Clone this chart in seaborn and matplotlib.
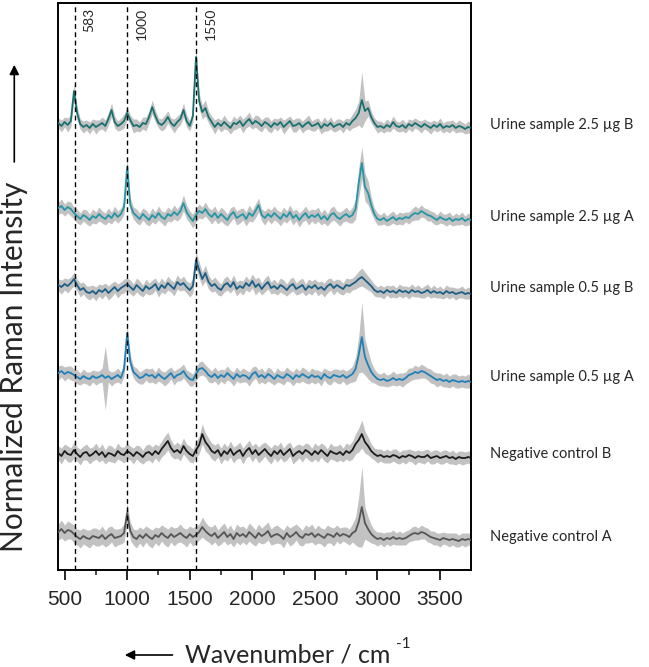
import numpy as np
import pandas as pd
import matplotlib
matplotlib.use("Agg")
import matplotlib.pyplot as plt
import matplotlib.transforms as mtransforms
from matplotlib.ticker import MultipleLocator
import seaborn as sns

# sampling grid of the spectra, cm-1
wavenumber = np.arange(450, 3751, 25)

samples = ["Negative control A", "Negative control B",
           "Urine sample 0.5 \u00b5g A", "Urine sample 0.5 \u00b5g B",
           "Urine sample 2.5 \u00b5g A", "Urine sample 2.5 \u00b5g B"]
offsets = [33, 116, 193, 282, 353, 445]
line_colors = ["#555555", "#1c1c1c", "#1f80b8", "#1b5f86", "#2695a5", "#19706f"]
marker_lines = [583, 1000, 1550]

# mean spectra (a.u., relative to each trace's baseline), rows of 10 = 250 cm-1
neg_a = [5, 8, 4, 7, 6, 3, 0, -2, 1, -1,
         -2, 1, 0, -1, 2, -2, 1, 3, -1, 0,
         1, 4, 24, 6, 0, -2, 2, -1, 3, 0,
         -2, 2, 0, 4, 1, -1, 3, 0, 2, 4,
         1, -1, 3, 0, 2, 5, 10, 6, 3, 1,
         4, -1, 2, 5, 0, 3, -2, 4, 1, 3,
         0, 5, 2, -1, 4, 1, 3, 6, 0, 2,
         3, 1, -2, 4, 0, 2, 5, 1, -1, 3,
         2, 4, 0, 3, 1, -1, 3, 2, 0, 4,
         1, 3, 2, 0, 4, 6, 15, 30, 14, 8,
         3, 0, -2, -1, -3, -1, -2, 0, -2, -1,
         -2, -1, 1, 3, 4, 3, 5, 4, 2, 0,
         -1, -2, -3, -1, -2, -3, -2, -3, -4, -2,
         -3, -2, -3]
neg_b = [1, -2, 3, 0, -1, 4, 0, -3, 1, 2,
         -2, 0, 3, -1, 2, -3, 1, 0, -2, 3,
         0, -1, 3, 1, -2, 2, 0, -3, 1, 2,
         -1, 3, 0, 5, 9, 13, 6, 2, 4, 1,
         8, 3, 0, -2, 4, 9, 20, 12, 8, 3,
         1, 4, -2, 3, 0, 5, -1, 2, 4, -2,
         3, 6, 0, 4, -1, 2, 5, 1, -2, 3,
         0, 4, -1, 2, 5, -2, 1, 3, 0, 4,
         2, -1, 3, 0, 4, 1, -2, 3, 1, 0,
         2, -1, 3, 1, 4, 10, 14, 20, 12, 8,
         3, 0, -2, -1, -3, -2, -3, -1, -2, -4,
         -2, -3, -1, -2, -4, -2, -3, -3, -1, -4,
         -3, -2, -4, -3, -2, -4, -3, -5, -3, -4,
         -4, -3, -4]
u05_a = [4, 6, 3, 5, 4, 2, 0, -2, 1, -1,
         -2, 1, -1, 0, 2, -1, 1, -2, 0, 2,
         -1, 8, 44, 15, 5, 2, -1, 0, 3, 1,
         2, -1, 3, 0, -2, 1, 4, -1, 2, 3,
         6, 1, -2, -3, 3, 8, 9, 6, 2, 0,
         3, -1, 2, 0, 4, 1, -2, 3, 0, 2,
         1, -2, 3, 5, 0, 2, -1, 3, 1, -2,
         2, 0, -1, 3, 1, -2, 2, 0, 3, 1,
         -1, 2, 0, 1, -2, 3, 0, -1, 2, 1,
         0, 2, -1, 1, 3, 8, 22, 40, 20, 12,
         5, 1, -2, -3, -2, -4, -3, -1, -3, -2,
         -3, -1, 2, 3, 5, 4, 6, 5, 3, 1,
         -1, -3, -2, -4, -3, -5, -3, -4, -5, -4,
         -5, -4, -5]
u05_b = [3, 1, 4, 2, 5, 9, 3, -2, 0, -4,
         -5, -3, -6, -2, -4, -1, -5, -2, 1, -3,
         0, 2, 4, 1, -2, 3, 0, -3, 2, -1,
         1, 4, -2, 3, 0, 5, 2, -1, 6, 3,
         5, 1, -2, 2, 28, 18, 9, 15, 6, 2,
         4, 0, -2, 3, 5, 1, 6, -1, 2, 0,
         5, 2, 7, 1, 4, -1, 3, 6, 0, 2,
         -1, 3, 1, -2, 2, 4, -1, 1, 3, -2,
         2, 0, 3, -1, 1, -2, 2, 4, 0, 3,
         1, -1, 3, 2, 4, 6, 9, 11, 8, 5,
         2, -2, -4, -3, -5, -2, -4, -3, -5, -2,
         -4, -3, -5, -2, -4, -3, -5, -4, -2, -5,
         -3, -5, -4, -6, -3, -5, -4, -6, -5, -4,
         -6, -5, -6]
u25_a = [9, 11, 7, 10, 8, 4, 1, -2, 2, 0,
         -3, 1, -1, 3, 0, -2, 2, -1, 4, 0,
         3, 10, 50, 12, 4, 1, -2, 3, 0, -3,
         2, -1, 4, 0, -2, 3, 1, 5, 2, 6,
         14, 5, 0, -4, 2, 6, 4, 8, 3, 0,
         4, -1, 3, 0, -3, 2, 5, -1, 1, 3,
         -2, 4, 1, 6, 12, 2, -1, 3, 0, 4,
         1, -2, 3, 0, 5, -1, 2, -3, 1, 4,
         -1, 2, 0, 3, -2, 1, -3, 2, 4, 0,
         -2, 1, 3, 0, 2, 8, 34, 54, 30, 24,
         12, 3, -2, -3, -1, -4, -2, 0, -3, -1,
         -2, 0, -1, 2, 4, 3, 6, 4, 2, 1,
         -1, -3, 0, -2, -3, -1, -4, -2, -3, -1,
         -4, -2, -3]
u25_b = [2, -1, 3, 0, 4, 34, 12, 1, -2, 0,
         -3, 1, -2, 0, 2, -1, 6, 15, 3, -1,
         1, 4, 12, 5, -1, 0, -2, 2, 1, 8,
         18, 9, 2, 0, 3, 8, 2, -1, 3, 6,
         15, 4, -1, 9, 68, 24, 13, 17, 8, 3,
         -2, 2, -1, 3, 0, -3, 2, 1, 4, -1,
         3, 6, 1, 4, 2, -1, 3, 1, -2, 2,
         0, 3, -2, 1, 4, -1, 0, 2, -2, 1,
         3, -1, 0, 2, -3, 1, -1, 2, -2, 0,
         1, -2, 2, 0, 4, 7, 12, 25, 14, 17,
         8, 2, -2, -1, -3, 0, -2, 3, -1, -2,
         0, -3, 1, -1, 2, 0, -2, 1, -1, -3,
         0, -2, 1, -3, -1, -2, 0, -3, -1, -2,
         -4, -2, -3]

# standard deviation of the replicate spectra (grey band)
sd_neg_a = [8, 9, 8, 9, 8, 9, 8, 9, 8, 8,
            9, 8, 9, 8, 9, 8, 9, 8, 9, 8,
            8, 9, 10, 9, 8, 9, 8, 9, 8, 9,
            9, 8, 9, 8, 9, 9, 8, 9, 8, 9,
            8, 9, 8, 9, 9, 8, 10, 9, 8, 9,
            9, 8, 9, 9, 8, 9, 8, 9, 9, 8,
            8, 9, 9, 8, 9, 8, 9, 9, 8, 9,
            9, 8, 9, 8, 9, 9, 8, 9, 8, 9,
            8, 9, 8, 9, 8, 9, 9, 8, 9, 8,
            8, 7, 8, 8, 9, 14, 25, 40, 16, 12,
            9, 7, 7, 6, 7, 6, 7, 7, 6, 7,
            6, 7, 6, 7, 7, 6, 7, 6, 7, 6,
            7, 6, 7, 6, 6, 7, 6, 7, 6, 6,
            7, 6, 6]
sd_neg_b = [7, 8, 7, 8, 7, 8, 7, 8, 7, 8,
            8, 7, 8, 7, 8, 7, 8, 8, 7, 8,
            7, 8, 8, 7, 8, 7, 8, 7, 8, 8,
            8, 7, 8, 8, 9, 9, 8, 7, 8, 8,
            8, 7, 8, 7, 8, 9, 10, 9, 8, 8,
            8, 7, 8, 8, 7, 8, 8, 7, 8, 8,
            7, 8, 8, 7, 8, 8, 7, 8, 8, 7,
            8, 8, 7, 8, 7, 8, 8, 7, 8, 7,
            8, 7, 8, 8, 7, 8, 7, 8, 7, 8,
            8, 7, 8, 8, 9, 10, 12, 14, 11, 9,
            7, 6, 7, 6, 6, 7, 6, 6, 7, 6,
            6, 7, 6, 6, 7, 6, 6, 7, 6, 6,
            7, 6, 6, 7, 6, 6, 7, 6, 6, 7,
            6, 6, 7]
sd_u05_a = [7, 6, 7, 6, 7, 6, 7, 6, 7, 6,
            7, 6, 7, 6, 7, 32, 6, 7, 6, 7,
            6, 7, 8, 7, 6, 7, 6, 7, 6, 7,
            7, 6, 7, 6, 7, 7, 6, 7, 6, 7,
            7, 6, 7, 6, 7, 7, 7, 6, 7, 6,
            7, 7, 6, 7, 7, 6, 7, 7, 6, 7,
            6, 7, 7, 6, 7, 7, 6, 7, 7, 6,
            7, 6, 7, 7, 6, 7, 7, 6, 7, 7,
            6, 7, 7, 6, 7, 6, 7, 7, 6, 7,
            7, 6, 7, 7, 8, 12, 18, 35, 18, 14,
            10, 7, 6, 6, 7, 6, 6, 7, 6, 6,
            7, 6, 7, 6, 7, 6, 7, 6, 6, 7,
            6, 7, 6, 6, 7, 6, 6, 7, 6, 6,
            6, 7, 6]
sd_u05_b = [6, 7, 6, 7, 6, 7, 6, 7, 6, 6,
            7, 6, 7, 6, 7, 6, 7, 7, 6, 7,
            6, 7, 6, 7, 6, 7, 7, 6, 7, 6,
            7, 6, 7, 7, 6, 7, 6, 7, 7, 6,
            7, 6, 7, 7, 9, 8, 7, 8, 7, 6,
            7, 7, 6, 7, 7, 6, 7, 7, 6, 7,
            7, 6, 7, 8, 7, 6, 7, 7, 6, 7,
            6, 7, 7, 6, 7, 7, 6, 7, 7, 6,
            7, 7, 6, 7, 6, 7, 7, 6, 7, 6,
            7, 6, 7, 7, 6, 7, 8, 9, 8, 7,
            6, 6, 5, 6, 6, 5, 6, 6, 5, 6,
            6, 5, 6, 6, 5, 6, 5, 6, 6, 5,
            6, 5, 6, 5, 6, 6, 5, 6, 5, 6,
            5, 6, 5]
sd_u25_a = [6, 7, 6, 6, 7, 6, 7, 6, 6, 7,
            6, 7, 6, 7, 6, 6, 7, 6, 7, 6,
            6, 7, 9, 7, 6, 7, 6, 6, 7, 6,
            7, 6, 7, 6, 7, 7, 6, 7, 6, 7,
            8, 7, 6, 7, 7, 7, 6, 7, 6, 7,
            7, 6, 7, 7, 6, 7, 6, 7, 7, 6,
            7, 8, 6, 7, 7, 6, 7, 6, 7, 7,
            6, 7, 7, 6, 7, 7, 6, 7, 6, 7,
            7, 6, 7, 7, 6, 7, 6, 7, 7, 6,
            7, 6, 7, 6, 8, 10, 15, 16, 14, 12,
            8, 6, 6, 5, 6, 5, 6, 6, 5, 6,
            6, 5, 6, 6, 7, 6, 6, 5, 6, 5,
            6, 5, 6, 5, 6, 6, 5, 6, 5, 6,
            5, 6, 5]
sd_u25_b = [5, 6, 5, 7, 6, 8, 7, 5, 6, 5,
            6, 5, 7, 5, 6, 6, 6, 7, 6, 5,
            6, 7, 6, 5, 7, 6, 5, 6, 7, 6,
            7, 6, 5, 6, 7, 6, 5, 7, 6, 6,
            7, 6, 5, 6, 10, 8, 7, 8, 6, 6,
            7, 5, 6, 7, 5, 6, 7, 5, 6, 7,
            6, 7, 5, 6, 7, 6, 5, 7, 6, 5,
            6, 5, 7, 6, 5, 6, 7, 5, 6, 6,
            7, 5, 6, 5, 6, 7, 5, 6, 5, 6,
            5, 6, 5, 6, 7, 9, 12, 28, 10, 8,
            6, 5, 6, 5, 5, 6, 5, 6, 5, 5,
            6, 5, 5, 6, 5, 5, 6, 5, 5, 6,
            5, 5, 6, 5, 5, 6, 5, 5, 6, 5,
            5, 6, 5]

means = [neg_a, neg_b, u05_a, u05_b, u25_a, u25_b]
spreads = [sd_neg_a, sd_neg_b, sd_u05_a, sd_u05_b, sd_u25_a, sd_u25_b]

frames = []
for name, off, m, s in zip(samples, offsets, means, spreads):
    m = np.asarray(m, dtype=float)
    s = np.asarray(s, dtype=float)
    frames.append(pd.DataFrame({"wavenumber": wavenumber, "intensity": m + off,
                                "lo": m + off - s, "hi": m + off + s, "sample": name}))
df = pd.concat(frames, ignore_index=True)

sns.set_style("ticks")
plt.rcParams["font.family"] = ["Lato", "DejaVu Sans"]

fig = plt.figure(figsize=(6.49, 6.67), dpi=100)
ax = fig.add_axes([0.0889, 0.1454, 0.6364, 0.8501])

for name in samples:
    d = df[df["sample"] == name]
    ax.fill_between(d["wavenumber"], d["lo"], d["hi"], color="#c2c2c2", lw=0, zorder=1)

sns.lineplot(data=df, x="wavenumber", y="intensity", hue="sample", hue_order=samples,
             palette=dict(zip(samples, line_colors)), estimator=None, lw=1.3,
             legend=False, ax=ax, zorder=3)

for pos in marker_lines:
    ax.axvline(pos, color="black", lw=1.0, ls=(0, (3.5, 2.5)), zorder=4)
    ax.annotate(str(pos), xy=(pos, 1), xycoords=("data", "axes fraction"),
                xytext=(10.5, -3.5), textcoords="offset points", rotation=90,
                ha="center", va="top", fontsize=10)

trans = mtransforms.blended_transform_factory(ax.transAxes, ax.transData)
for name, off in zip(samples, offsets):
    ax.text(1.047, off, name, transform=trans, ha="left", va="center", fontsize=10.5)

ax.set_xlim(445, 3745)
ax.set_ylim(0, 567)
ax.set_yticks([])
ax.set_xlabel("")
ax.set_ylabel("")
ax.xaxis.set_major_locator(MultipleLocator(500))
ax.xaxis.set_minor_locator(MultipleLocator(250))
ax.tick_params(axis="x", which="major", length=7.5, width=1.4, direction="out", pad=7)
ax.tick_params(axis="x", which="minor", length=3.5, width=1.2, direction="out")
for lab in ax.get_xticklabels():
    lab.set_fontfamily("Liberation Sans")
    lab.set_fontsize(15)
for sp in ax.spines.values():
    sp.set_visible(True)
    sp.set_linewidth(1.4)
    sp.set_color("black")

# axis titles with direction arrows
fig.text(0.022, 0.45, "Normalized Raman Intensity", rotation=90,
         ha="center", va="center", fontsize=21.5)
fig.patches.append(matplotlib.patches.FancyArrowPatch(
    (0.022, 0.753), (0.022, 0.907), transform=fig.transFigure,
    arrowstyle="-|>", mutation_scale=14, lw=1.2, color="black"))

xl = fig.text(0.285, 0.018, "Wavenumber / cm", ha="left", va="center", fontsize=18)
fig.patches.append(matplotlib.patches.FancyArrowPatch(
    (0.27, 0.018), (0.188, 0.018), transform=fig.transFigure,
    arrowstyle="-|>", mutation_scale=14, lw=1.2, color="black"))
fig.canvas.draw()
bb = xl.get_window_extent().transformed(fig.transFigure.inverted())
fig.text(bb.x1 + 0.008, 0.034, "-1", ha="left", va="center", fontsize=11)

fig.savefig("out.png", dpi=100)
